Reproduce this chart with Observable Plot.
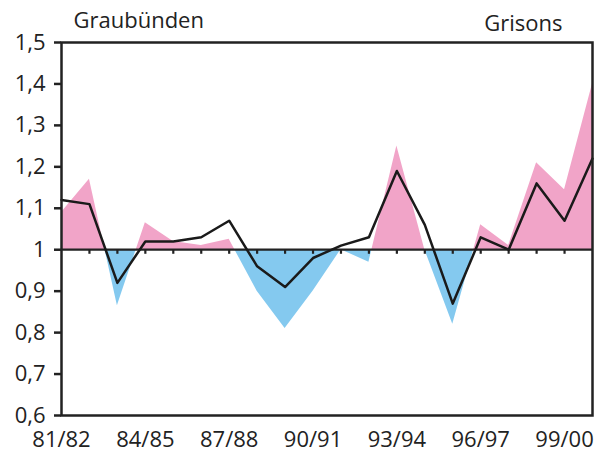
<!DOCTYPE html>
<html>
<head>
<meta charset="utf-8">
<script src="https://cdn.jsdelivr.net/npm/d3@7"></script>
<script src="https://cdn.jsdelivr.net/npm/@observablehq/plot@0.6"></script>
<style>
  html, body { margin: 0; padding: 0; background: #fff; }
  #chart svg { display: block; }
</style>
</head>
<body>
<div id="chart"></div>
<script>
const seasons = ["81/82","82/83","83/84","84/85","85/86","86/87","87/88","88/89","89/90","90/91",
                 "91/92","92/93","93/94","94/95","95/96","96/97","97/98","98/99","99/00","00/01"];
const areaValues = [1.09, 1.17, 0.865, 1.065, 1.02, 1.01, 1.025, 0.90, 0.81, 0.90,
                    1.00, 0.97, 1.25, 1.00, 0.82, 1.06, 1.01, 1.21, 1.145, 1.40];
const lineValues = [1.12, 1.11, 0.92, 1.02, 1.02, 1.03, 1.07, 0.96, 0.91, 0.98,
                    1.01, 1.03, 1.19, 1.06, 0.87, 1.03, 1.00, 1.16, 1.07, 1.22];
const yTicks = [0.6, 0.7, 0.8, 0.9, 1, 1.1, 1.2, 1.3, 1.4, 1.5];
const xTickLabels = ["81/82","84/85","87/88","90/91","93/94","96/97","99/00"];
const titleLeft = "Graubünden";
const titleRight = "Grisons";
const baseline = 1;

const data = seasons.map((s, i) => ({season: s, area: areaValues[i], line: lineValues[i]}));
const innerSeasons = seasons.slice(1, -1);

const gradientMark = (index, scales, values, dimensions) => {
  const y0 = scales.y(baseline);
  const H = dimensions.height;
  const off = y0 / H;
  const ns = "http://www.w3.org/2000/svg";
  const defs = document.createElementNS(ns, "defs");
  const g = document.createElementNS(ns, "linearGradient");
  g.setAttribute("id", "posneg");
  g.setAttribute("gradientUnits", "userSpaceOnUse");
  g.setAttribute("x1", 0); g.setAttribute("x2", 0);
  g.setAttribute("y1", 0); g.setAttribute("y2", H);
  [[0, "#f1a4c8"], [off, "#f1a4c8"], [off, "#84c9ef"], [1, "#84c9ef"]].forEach(([o, c]) => {
    const st = document.createElementNS(ns, "stop");
    st.setAttribute("offset", o);
    st.setAttribute("stop-color", c);
    g.appendChild(st);
  });
  defs.appendChild(g);
  return defs;
};

const chart = Plot.plot({
  width: 603,
  height: 457,
  marginLeft: 61,
  marginRight: 11,
  marginTop: 42,
  marginBottom: 42,
  style: {fontFamily: "'Open Sans', sans-serif", fontSize: "22px", color: "#222", background: "#fff"},
  x: {type: "point", domain: seasons, padding: 0, round: false},
  y: {domain: [0.6, 1.5]},
  marks: [
    gradientMark,
    Plot.areaY(data, {x: "season", y1: baseline, y2: "area", fill: "url(#posneg)"}),
    Plot.ruleY([baseline], {stroke: "#222", strokeWidth: 2.2}),
    Plot.ruleX(innerSeasons, {x: d => d, y1: baseline, y2: baseline - 0.011, stroke: "#222", strokeWidth: 2.2}),
    Plot.line(data, {x: "season", y: "line", stroke: "#1a1a1a", strokeWidth: 2.5}),
    Plot.frame({stroke: "#222", strokeWidth: 2.5}),
    Plot.axisY({ticks: yTicks, tickSize: 7, tickPadding: 9, strokeWidth: 2.5,
                tickFormat: d => d === 1 ? "1" : d.toFixed(1).replace(".", ","), label: null}),
    Plot.axisX({ticks: xTickLabels, tickSize: 0, tickPadding: 16, label: null}),
    Plot.text([titleLeft], {frameAnchor: "top-left", dx: 12, dy: -15, textAnchor: "start", lineAnchor: "bottom", fontSize: 22, fill: "#222"}),
    Plot.text([titleRight], {frameAnchor: "top-right", dx: -30, dy: -12, textAnchor: "end", lineAnchor: "bottom", fontSize: 22, fill: "#222"})
  ]
});
document.getElementById("chart").appendChild(chart);
</script>
</body>
</html>
